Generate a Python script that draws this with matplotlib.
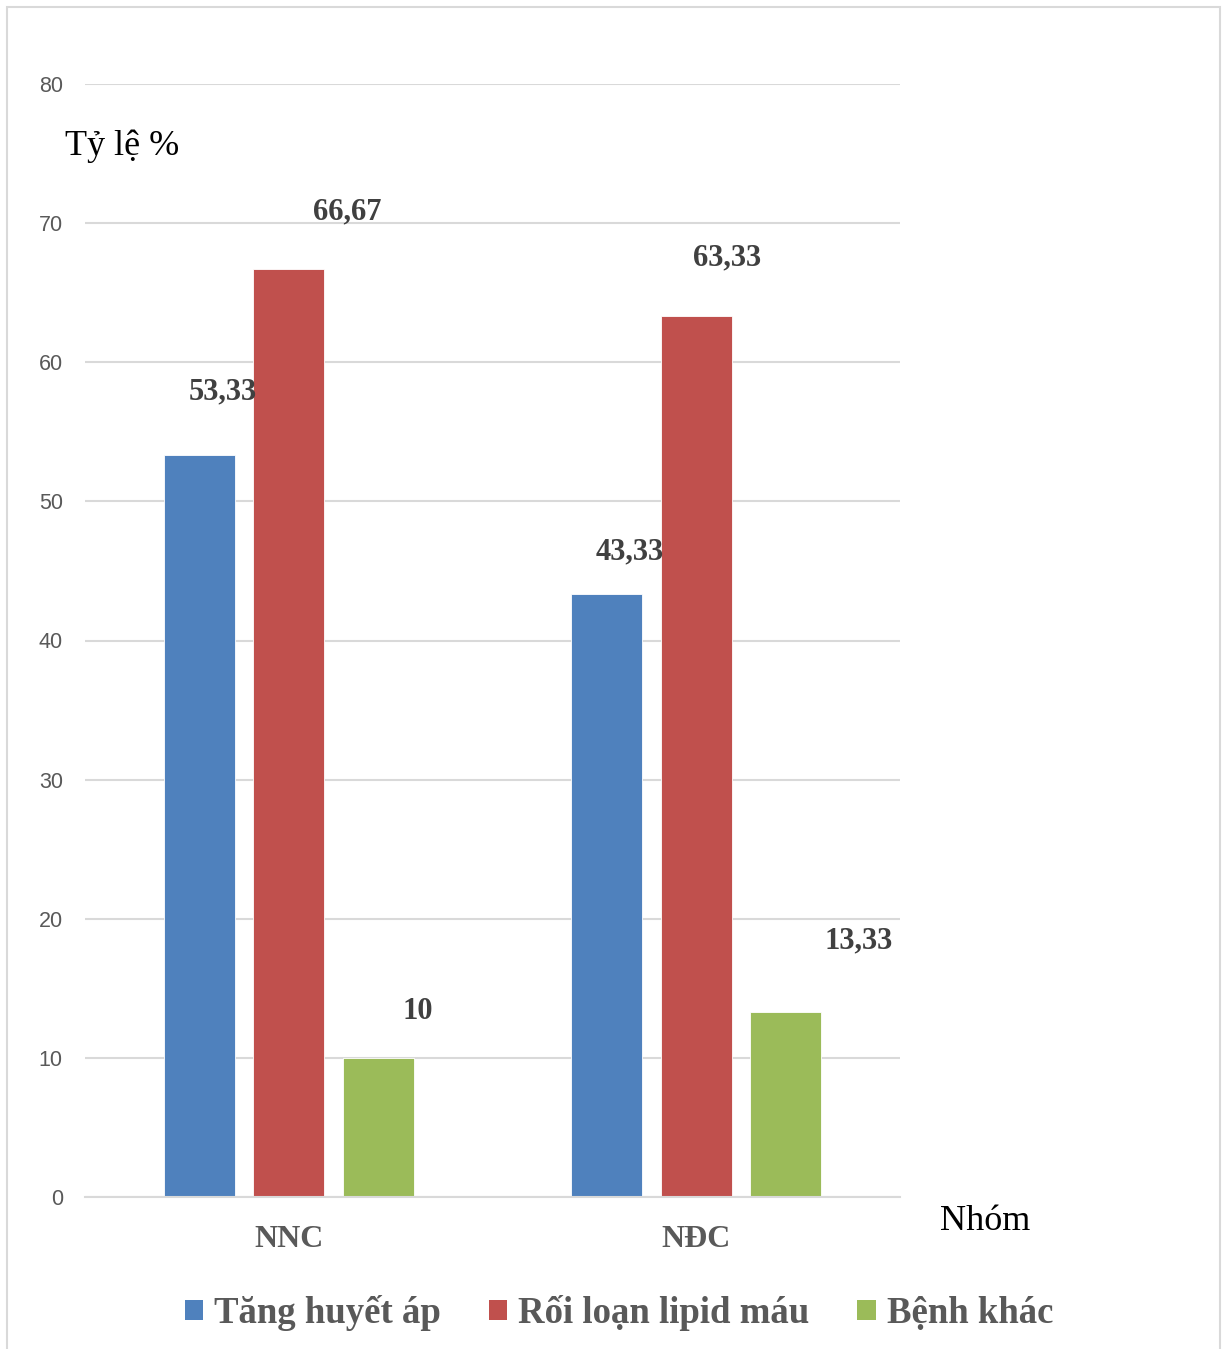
import matplotlib.pyplot as plt
import numpy as np
from matplotlib.patches import Patch, Rectangle

# data
groups = ["NNC", "NĐC"]
series = ["Tăng huyết áp", "Rối loạn lipid máu", "Bệnh khác"]
tang_huyet_ap = [53.33, 43.33]
roi_loan_lipid = [66.67, 63.33]
benh_khac = [10, 13.33]
yticks = [0, 10, 20, 30, 40, 50, 60, 70, 80]

colors = ["#4F81BD", "#C0504D", "#9BBB59"]
# hand-placed label nudges (pixels): (dx from bar centre, baseline above bar top)
label_nudge = [
    [(24, 56), (59, 50), (39, 39)],
    [(23, 35), (31, 51), (73, 63)],
]

W, H, DPI = 1228, 1349, 100
fig = plt.figure(figsize=(W / DPI, H / DPI), dpi=DPI)
ax = fig.add_axes([85 / W, 1 - 1197 / H, (900 - 85) / W, (1197 - 84) / H])

x = np.arange(len(groups))
step, width = 0.22, 0.174
values = [tang_huyet_ap, roi_loan_lipid, benh_khac]
for i, (vals, c) in enumerate(zip(values, colors)):
    bars = ax.bar(x + (i - 1) * step, vals, width, color=c, edgecolor="white", linewidth=0.6, zorder=2)
    for g, b in enumerate(bars):
        dx, dy = label_nudge[g][i]
        v = vals[g]
        txt = f"{v:g}".replace(".", ",")
        ax.annotate(txt, (b.get_x() + b.get_width() / 2, b.get_height()),
                    xytext=(dx, dy), textcoords="offset pixels", ha="center", va="baseline",
                    family="Liberation Serif", weight="bold", fontsize=22, color="#404040", zorder=3)

ax.set_xlim(-0.5, 1.5)
ax.set_ylim(0, 80)
ax.set_yticks(yticks)
ax.set_yticklabels([str(t) for t in yticks], family="Liberation Sans", fontsize=15.5, color="#595959")
ax.set_xticks(x)
ax.set_xticklabels(groups, family="Liberation Serif", weight="bold", fontsize=23, color="#595959")
ax.tick_params(axis="y", length=0, pad=16)
ax.tick_params(axis="x", length=0, pad=20)
ax.grid(axis="y", color="#d9d9d9", linewidth=1.5, zorder=0)
ax.set_axisbelow(True)
for s in ["left", "right", "top"]:
    ax.spines[s].set_visible(False)
ax.spines["bottom"].set_color("#d9d9d9")
ax.spines["bottom"].set_linewidth(1.5)

fig.text(65 / W, 1 - 146 / H, "Tỷ lệ %", family="Liberation Serif", fontsize=26, ha="left", va="center")
fig.text(940 / W, 1 - 1222 / H, "Nhóm", family="Liberation Serif", fontsize=26, ha="left", va="center")

handles = [Patch(facecolor=c, edgecolor="none") for c in colors]
fig.legend(handles, series, loc="center", bbox_to_anchor=(619 / W, 1 - 1313 / H), ncol=3, frameon=False,
           prop={"family": "Liberation Serif", "weight": "bold", "size": 26.5},
           labelcolor="#595959", handlelength=0.5, handleheight=0.48, handletextpad=0.3, columnspacing=1.3)

# outer chart border
fig.patches.append(Rectangle((7 / W, -0.01), (1220 - 7) / W, 1.01 - 7 / H, transform=fig.transFigure,
                             fill=False, edgecolor="#d9d9d9", linewidth=1.5))

fig.savefig("out.png", dpi=DPI)
